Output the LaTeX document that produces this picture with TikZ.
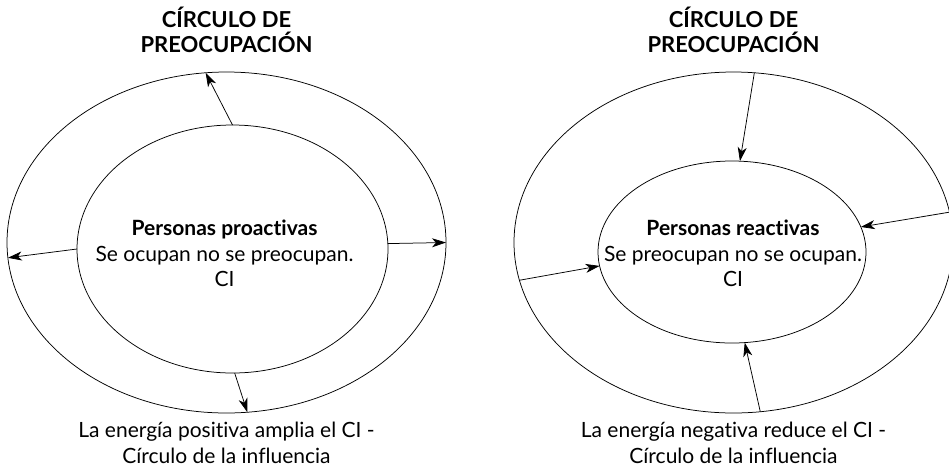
\documentclass[tikz,border=0pt]{standalone}
\usepackage{fontspec}
\setmainfont{Lato}[Ligatures=NoCommon]
\usetikzlibrary{positioning,shapes.geometric,arrows.meta}
\tikzset{
    >={Stealth[length=14pt,width=9pt,inset=4pt]},
    ring/.style = {draw, ellipse, inner sep=0pt, outer sep=0pt},
    body/.style = {align=center, inner sep=0pt, font=\fontsize{21}{25.5}\selectfont},
    heading/.style = {body, font=\fontsize{22}{25}\selectfont\bfseries},
}
\begin{document}
\begin{tikzpicture}[x=1pt, y=1pt, line width=0.75pt]
\useasboundingbox (0,0) rectangle (949,-467);

% proactivas
\node (outerL) [ring, minimum width=439pt, minimum height=341pt] at (226.5,-242.5) {};
\node (innerL) [ring, minimum width=311pt, minimum height=248pt] at (232.5,-249) {};
\node (textL) [body] at (224.5,-253.5)
    {\textbf{Personas proactivas}\\Se ocupan no se preocupan.\\CI};
\node (titleL) [heading, above=19pt of outerL] {CÍRCULO DE\\PREOCUPACIÓN};
\node (noteL) [body, below=9pt of outerL] {La energía positiva amplia el CI -\\Círculo de la influencia};

\draw [->] (innerL.90) -- (outerL.97.6);
\draw [->] (innerL.2.6) -- (outerL.0);
\draw [->] (innerL.180) -- (outerL.-176.2);
\draw [->] (innerL.-89) -- (outerL.-83.1);

% reactivas
\node (outerR) [ring, minimum width=439pt, minimum height=341pt] at (733.5,-242.5) {};
\node (innerR) [ring, minimum width=268pt, minimum height=182pt] at (732,-252) {};
\node (textR) [body] at (733,-253.5)
    {\textbf{Personas reactivas}\\Se preocupan no se ocupan.\\CI};
\node (titleR) [heading, above=19pt of outerR] {CÍRCULO DE\\PREOCUPACIÓN};
\node (noteR) [body, below=9pt of outerR] {La energía negativa reduce el CI -\\Círculo de la influencia};

\draw [->] (outerR.83.8) -- (innerR.85.6);
\draw [->] (outerR.8.3) -- (innerR.11.7);
\draw [->] (outerR.-170.8) -- (innerR.-174);
\draw [->] (outerR.-81.8) -- (innerR.-82.6);
\end{tikzpicture}
\end{document}
